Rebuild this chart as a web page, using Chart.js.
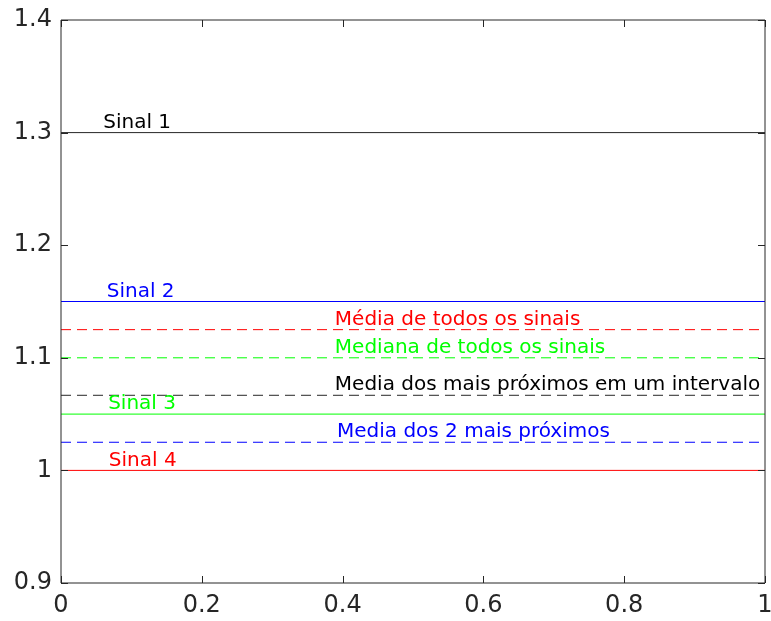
<!DOCTYPE html>
<html>
<head>
<meta charset="utf-8">
<script src="https://cdn.jsdelivr.net/npm/chart.js@4"></script>
<style>
html,body{margin:0;padding:0;background:#fff;}
#wrap{width:771px;height:621px;position:relative;}
</style>
</head>
<body>
<div id="wrap"><canvas id="c" width="771" height="621"></canvas></div>
<script>
// ---- data ----
const seriesNames = ['Sinal 1','Sinal 2','Sinal 3','Sinal 4',
  'Média de todos os sinais','Mediana de todos os sinais',
  'Media dos mais próximos em um intervalo','Media dos 2 mais próximos'];
const seriesValues = [1.3, 1.15, 1.05, 1.0, 1.125, 1.1, 1.0667, 1.025];
const seriesColors = ['#262626','#0000ff','#00ff00','#ff0000','#ff0000','#00ff00','#262626','#0000ff'];
const seriesDashed = [false,false,false,false,true,true,true,true];
const labelX = [0.06, 0.065, 0.067, 0.068, 0.389, 0.389, 0.389, 0.392];
const xRange = [0, 1];
const yRange = [0.9, 1.4];
const xTickValues = [0, 0.2, 0.4, 0.6, 0.8, 1];
const xTickLabels = ['0','0.2','0.4','0.6','0.8','1'];
const yTickValues = [0.9, 1.0, 1.1, 1.2, 1.3, 1.4];
const yTickLabels = ['0.9','1','1.1','1.2','1.3','1.4'];

const datasets = seriesValues.map((v,i)=>({
  label: seriesNames[i],
  data: [{x:xRange[0],y:v},{x:xRange[1],y:v}],
  borderColor: seriesColors[i],
  borderWidth: 1,
  borderDash: seriesDashed[i] ? [10,6] : [],
  pointRadius: 0,
  fill: false,
  tension: 0
}));

const framePlugin = {
  id:'frame',
  afterDatasetsDraw(chart){
    const ctx = chart.ctx, a = chart.chartArea;
    const xs = chart.scales.x, ys = chart.scales.y;
    ctx.save();
    // labels
    ctx.font = '20px "DejaVu Sans"';
    ctx.textAlign = 'left';
    ctx.textBaseline = 'bottom';
    seriesValues.forEach((v,i)=>{
      ctx.fillStyle = seriesColors[i] === '#262626' ? '#000' : seriesColors[i];
      ctx.fillText(seriesNames[i], xs.getPixelForValue(labelX[i]), ys.getPixelForValue(v) - 0);
    });
    // frame
    ctx.strokeStyle = '#262626';
    ctx.lineWidth = 1;
    ctx.setLineDash([]);
    ctx.beginPath();
    ctx.moveTo(a.left, a.top); ctx.lineTo(a.right, a.top);
    ctx.lineTo(a.right, a.bottom); ctx.lineTo(a.left, a.bottom); ctx.closePath();
    ctx.stroke();
    // inward ticks on all sides
    const tl = 7;
    ctx.beginPath();
    xTickValues.forEach(v=>{
      const px = Math.round(xs.getPixelForValue(v)) + 0.5;
      ctx.moveTo(px, a.bottom); ctx.lineTo(px, a.bottom - tl);
      ctx.moveTo(px, a.top); ctx.lineTo(px, a.top + tl);
    });
    yTickValues.forEach(v=>{
      const py = Math.round(ys.getPixelForValue(v)) + 0.5;
      ctx.moveTo(a.left, py); ctx.lineTo(a.left + tl, py);
      ctx.moveTo(a.right, py); ctx.lineTo(a.right - tl, py);
    });
    ctx.stroke();
    ctx.restore();
  }
};

new Chart(document.getElementById('c'), {
  type: 'line',
  data: { datasets },
  plugins: [framePlugin],
  options: {
    responsive: false,
    animation: false,
    devicePixelRatio: 1,
    layout: { padding: { left: 0, right: 6, top: 20, bottom: 0 } },
    plugins: { legend: {display:false}, tooltip: {enabled:false} },
    scales: {
      x: {
        type: 'linear', min: xRange[0], max: xRange[1],
        afterBuildTicks(s){ s.ticks = xTickValues.map(v=>({value:v})); },
        afterFit(s){ s.height = 38; s.paddingLeft = 0; s.paddingRight = 0; },
        grid: { display:false, drawTicks:false },
        border: { display:false },
        ticks: { padding: 8, color:'#262626', font:{family:'DejaVu Sans', size:24},
          maxRotation:0, autoSkip:false,
          callback:(v,i)=>xTickLabels[i] }
      },
      y: {
        type: 'linear', min: yRange[0], max: yRange[1],
        afterBuildTicks(s){ s.ticks = yTickValues.map(v=>({value:v})); },
        afterFit(s){ s.width = 61; s.paddingTop = 0; s.paddingBottom = 0; },
        grid: { display:false, drawTicks:false },
        border: { display:false },
        ticks: { padding: 9, color:'#262626', font:{family:'DejaVu Sans', size:24},
          autoSkip:false,
          callback:(v,i)=>yTickLabels[i] }
      }
    }
  }
});
</script>
</body>
</html>
